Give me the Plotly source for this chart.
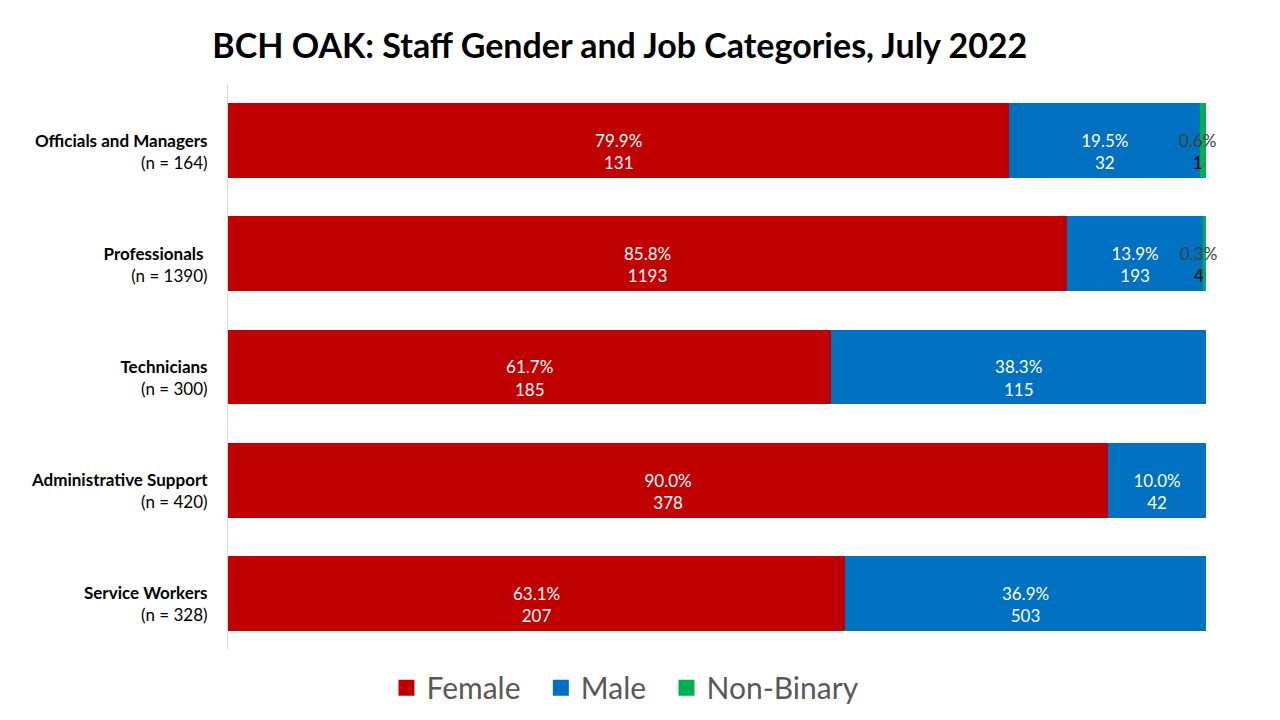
import plotly.graph_objects as go

categories = ["Officials and Managers", "Professionals ", "Technicians", "Administrative Support", "Service Workers"]
totals = [164, 1390, 300, 420, 328]
female_pct = [79.9, 85.8, 61.7, 90.0, 63.1]
male_pct = [19.5, 13.9, 38.3, 10.0, 36.9]
nb_pct = [0.6, 0.3, 0.0, 0.0, 0.0]
female_n = [131, 1193, 185, 378, 207]
male_n = [32, 193, 115, 42, 503]
nb_n = [1, 4, 0, 0, 0]

series_names = ["Female", "Male", "Non-Binary"]
series_colors = ["#C00000", "#0070C0", "#00B050"]

FONT = "Lato, 'Noto Sans', sans-serif"
# leading blank line reproduces the lower placement of the original labels
ylabels = [f"&nbsp;<br><b>{c}</b><br>(n = {t})" for c, t in zip(categories, totals)]

fig = go.Figure()
for name, color, pct, cnt in [(series_names[0], series_colors[0], female_pct, female_n),
                              (series_names[1], series_colors[1], male_pct, male_n)]:
    fig.add_trace(go.Bar(
        y=ylabels, x=pct, orientation="h", name=name, showlegend=False,
        marker=dict(color=color, line=dict(width=0)),
        text=[f"&nbsp;<br>{p:.1f}%<br>{n}" for p, n in zip(pct, cnt)],
        textposition="inside", insidetextanchor="middle", textangle=0,
        textfont=dict(color="white", size=17, family=FONT), constraintext="none",
    ))
fig.add_trace(go.Bar(
    y=ylabels, x=nb_pct, orientation="h", name=series_names[2], showlegend=False,
    marker=dict(color=series_colors[2], line=dict(width=0)),
    hoverinfo="x+name",
))

# Non-binary labels (segments too thin for inside text)
for yl, f, m, p, n in zip(ylabels, female_pct, male_pct, nb_pct, nb_n):
    if n > 0:
        fig.add_annotation(x=f + m + p / 2, y=yl, xref="x", yref="y",
                           text=f"<span style='color:#404040'>{p:.1f}%</span><br>{n}",
                           showarrow=False, xshift=-6, yshift=-11,
                           font=dict(color="black", size=17, family=FONT))

# legend entries with larger square swatches
for i, (name, color) in enumerate(zip(series_names, series_colors)):
    label = name + ("&nbsp;&nbsp;" if i < len(series_names) - 1 else "")
    fig.add_trace(go.Scatter(
        x=[None], y=[None], mode="markers", name=label, showlegend=True,
        marker=dict(symbol="square", size=17, color=color),
    ))

fig.update_layout(
    barmode="stack", bargap=0.34,
    width=1280, height=720,
    plot_bgcolor="white", paper_bgcolor="white",
    margin=dict(l=220, r=82, t=76, b=78),
    font=dict(family=FONT),
    title=dict(text="<b>BCH OAK: Staff Gender and Job Categories, July 2022</b>",
               x=0.478, xanchor="center", xref="container", y=0.947, yanchor="middle",
               font=dict(size=34, color="black", family=FONT)),
    legend=dict(orientation="h", x=0.4824, xanchor="center", xref="container",
                y=0.056, yanchor="middle", yref="container", traceorder="normal",
                font=dict(size=30, color="#595959", family=FONT),
                itemwidth=30, tracegroupgap=0, itemsizing="trace"),
    xaxis=dict(range=[0, 100], showgrid=False, showticklabels=False, zeroline=False,
               showline=False, fixedrange=True),
    yaxis=dict(autorange="reversed", showline=True, linecolor="#D9D9D9", linewidth=1,
               showgrid=False, ticks="", ticklabelstandoff=16,
               tickfont=dict(size=17, color="black", family=FONT)),
)

fig.write_html("out.html")
